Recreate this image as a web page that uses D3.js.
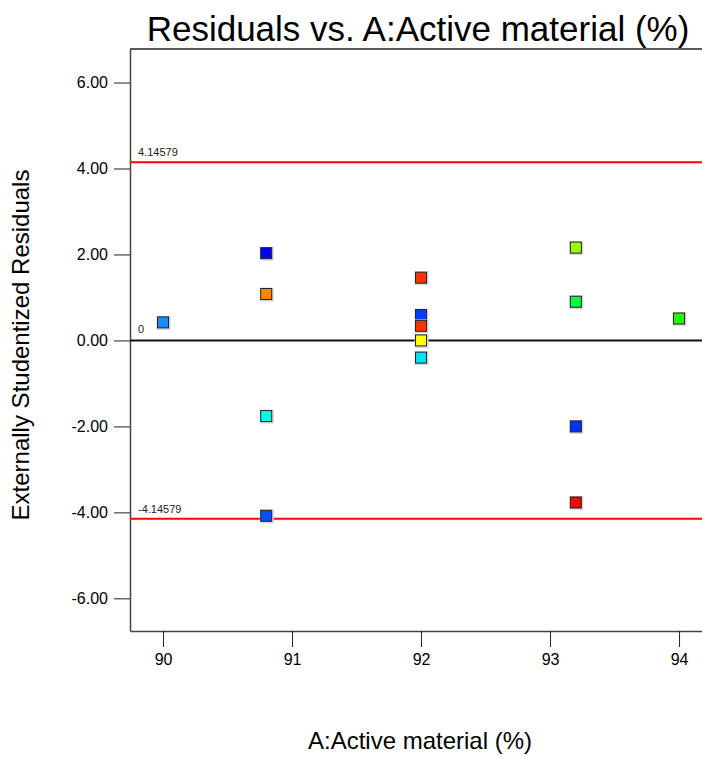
<!DOCTYPE html>
<html>
<head>
<meta charset="utf-8">
<script src="https://cdn.jsdelivr.net/npm/d3@7/dist/d3.min.js"></script>
<style>
  body { margin: 0; background: #fff; }
  text { font-family: "Liberation Sans", Arial, sans-serif; }
</style>
</head>
<body>
<div id="chart"></div>
<script>
// residual data
var activeMaterial = [90, 90.8, 90.8, 90.8, 90.8, 92, 92, 92, 92, 92, 93.2, 93.2, 93.2, 93.2, 94];
var residuals = [0.42, 2.03, 1.08, -1.76, -4.08, 1.46, 0.59, 0.34, 0.0, -0.40, 2.16, 0.90, -2.00, -3.77, 0.51];
var pointColors = ["#1a8cff", "#0000ff", "#ff8800", "#00ffe6", "#0050ff", "#ff3300", "#0040ff", "#ff3300",
                   "#ffff00", "#00e0ff", "#99ff00", "#00ff44", "#0033ff", "#ff0000", "#22ff00"];
var yTicks = [-6, -4, -2, 0, 2, 4, 6];
var xTicks = [90, 91, 92, 93, 94];
var limits = [4.14579, -4.14579];

var width = 702, height = 757;
// plot box (window.top is reserved, so use other names)
var plotLeft = 130, plotRight = 702, plotTop = 49, plotBottom = 631;

var svg = d3.select("#chart").append("svg")
    .attr("width", width)
    .attr("height", height);

var x = d3.scaleLinear().domain([89.744, 94.178]).range([plotLeft, plotRight]);
var y = d3.scaleLinear().domain([-6.76, 6.78]).range([plotBottom, plotTop]);

// plain hyphen for negatives, like the original
var fmt = function (f) { return function (v) { return d3.format(f)(v).replace("\u2212", "-"); }; };

// title
svg.append("text")
    .attr("x", 418).attr("y", 41)
    .attr("text-anchor", "middle")
    .attr("font-size", 35)
    .text("Residuals vs. A:Active material (%)");

// axes
var yAxis = svg.append("g")
    .attr("transform", "translate(" + plotLeft + ",0)")
    .call(d3.axisLeft(y).tickValues(yTicks).tickSize(16).tickSizeOuter(0).tickPadding(6).tickFormat(fmt(".2f")));
var xAxis = svg.append("g")
    .attr("transform", "translate(0," + plotBottom + ")")
    .call(d3.axisBottom(x).tickValues(xTicks).tickSize(16).tickSizeOuter(0).tickPadding(7).tickFormat(d3.format("d")));

[yAxis, xAxis].forEach(function (g) {
    g.attr("font-size", 16).attr("font-family", "'Liberation Sans', Arial, sans-serif");
    g.select(".domain").attr("stroke", "#444").attr("stroke-width", 1.5);
    g.selectAll(".tick line").attr("stroke", "#222");
    g.selectAll(".tick text").attr("fill", "#000");
});

// top frame line
svg.append("line")
    .attr("x1", plotLeft).attr("x2", plotRight)
    .attr("y1", plotTop).attr("y2", plotTop)
    .attr("stroke", "#222").attr("stroke-width", 1.5);

// zero line
svg.append("line")
    .attr("x1", plotLeft).attr("x2", plotRight)
    .attr("y1", y(0)).attr("y2", y(0))
    .attr("stroke", "#111").attr("stroke-width", 2);
svg.append("text")
    .attr("x", 138).attr("y", y(0) - 7)
    .attr("font-size", 11).attr("fill", "#222")
    .text("0");

// limit lines
limits.forEach(function (v) {
    svg.append("line")
        .attr("x1", plotLeft).attr("x2", plotRight)
        .attr("y1", y(v)).attr("y2", y(v))
        .attr("stroke", "#ff0000").attr("stroke-width", 2);
    svg.append("text")
        .attr("x", 138).attr("y", y(v) - 6)
        .attr("font-size", 11).attr("fill", "#222")
        .text(fmt(".5f")(v));
});

// points
var pts = svg.append("g").selectAll("g")
    .data(residuals)
    .enter().append("g")
    .attr("transform", function (d, i) { return "translate(" + x(activeMaterial[i]) + "," + y(d) + ")"; });
pts.append("rect")
    .attr("x", -6.5).attr("y", -6.5).attr("width", 14).attr("height", 14)
    .attr("fill", "#d8d8d8");
pts.append("rect")
    .attr("x", -5.5).attr("y", -5.5).attr("width", 11).attr("height", 11)
    .attr("fill", function (d, i) { return pointColors[i]; })
    .attr("stroke", "#222").attr("stroke-width", 1);

// axis titles
svg.append("text")
    .attr("x", 420).attr("y", 749)
    .attr("text-anchor", "middle")
    .attr("font-size", 24)
    .text("A:Active material (%)");
svg.append("text")
    .attr("transform", "translate(29,345) rotate(-90)")
    .attr("text-anchor", "middle")
    .attr("font-size", 24)
    .text("Externally Studentized Residuals");
</script>
</body>
</html>
